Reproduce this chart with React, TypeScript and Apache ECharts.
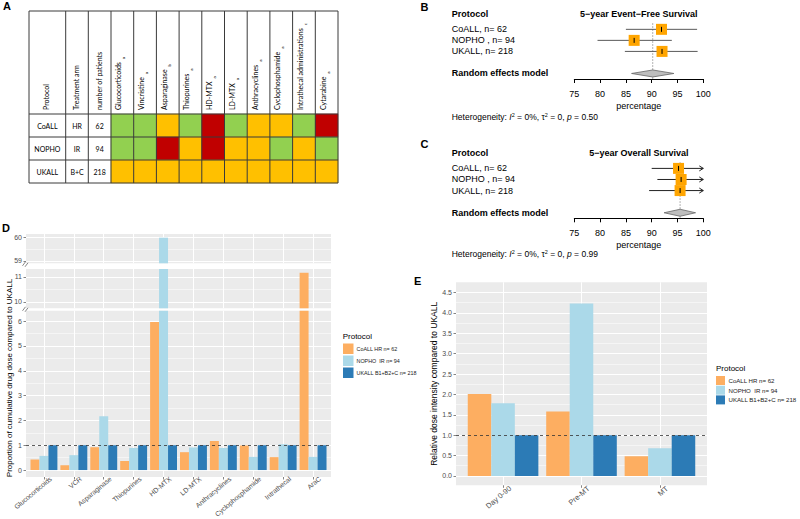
import React, { useEffect, useRef } from 'react';
import * as echarts from 'echarts';

const SANS = '"Liberation Sans", Arial, Helvetica, sans-serif';
const TABLE_FONT = 'Lato, "Liberation Sans", sans-serif';

// ---------------- Panel A: treatment intensity table ----------------
const infoColumns = ['Protocol', 'Treatment arm', 'number of patients'];
const drugColumns = ['Glucocorticoids', 'Vincristine', 'Asparaginase', 'Thiopurines', 'HD-MTX', 'LD-MTX', 'Anthracyclines', 'Cyclophosphamide', 'Intrathecal administrations', 'Cytarabine'];
const drugFootnotes = ['a', 'a', 'b', 'a', 'a', 'a', 'a', 'a', 'c', 'a'];
const tableProtocols = ['CoALL', 'NOPHO', 'UKALL'];
const treatmentArms = ['HR', 'IR', 'B+C'];
const patientCounts = ['62', '94', '218'];
// 0 = lower (green), 1 = comparable (amber), 2 = higher (red)
const coallLevels = [0, 0, 1, 0, 2, 0, 1, 1, 0, 2];
const nophoLevels = [0, 0, 2, 1, 2, 1, 1, 0, 1, 0];
const ukallLevels = [1, 1, 1, 1, 1, 1, 1, 1, 1, 1];
const levelColors = ['#92D050', '#FFC000', '#C00000'];

// ---------------- Panel B: 5-year EFS forest ----------------
const forestStudies = ['CoALL, n= 62', 'NOPHO , n= 94', 'UKALL, n= 218'];
const efsEstimate = [91.9, 86.6, 92.0];
const efsLower = [85.0, 79.5, 84.8];
const efsUpper = [98.8, 93.9, 98.9];
const efsPooled = [90.2, 86.1, 94.3]; // estimate, lower, upper
const efsHet = ['0%', '0', '0.50'];

// ---------------- Panel C: 5-year OS forest ----------------
const osEstimate = [95.2, 95.7, 95.5];
const osLower = [90.0, 91.1, 89.5];
const osUpper = [100.6, 100.6, 100.6];
const osPooled = [95.5, 92.4, 98.5];
const osHet = ['0%', '0', '0.99'];
const forestMin = 75;
const forestMax = 100;
const forestStep = 5;

// ---------------- Panel D: cumulative dose ----------------
const doseCategories = ['Glucocorticoids', 'VCR', 'Asparaginase', 'Thiopurines', 'HD-MTX', 'LD-MTX', 'Anthracyclines', 'Cyclophosphamide', 'Intrathecal', 'AraC'];
const coallDose = [0.43, 0.19, 0.92, 0.36, 5.96, 0.72, 1.17, 0.99, 0.52, 11.16];
const nophoDose = [0.57, 0.6, 2.17, 0.89, 60.0, 0.91, 0.89, 0.53, 1.04, 0.53];
const ukallDose = [1, 1, 1, 1, 1, 1, 1, 1, 1, 1];
const doseTicksTop = [59, 60];
const doseTicksMid = [10, 11];
const doseTicksLow = [0, 1, 2, 3, 4, 5, 6];

// ---------------- Panel E: relative dose intensity ----------------
const phaseCategories = ['Day 0-90', 'Pre-MT', 'MT'];
const coallRel = [2.01, 1.58, 0.48];
const nophoRel = [1.78, 4.23, 0.68];
const ukallRel = [1, 1, 1];
const relTicks = [0, 0.5, 1, 1.5, 2, 2.5, 3, 3.5, 4, 4.5];

const protocolNames = ['CoALL HR n= 62', 'NOPHO  IR n= 94', 'UKALL B1+B2+C n= 218'];
const protocolColors = ['#FDAE61', '#ABD9E9', '#2C7BB6'];

const GG_BG = '#EBEBEB';
const TICK = '#333333';
const LAB = '#4D4D4D';

function minorOf(ticks: number[], step: number, max: number) {
  return ticks.map((v) => v + step / 2).filter((v) => v < max);
}

function buildOption() {
  const ctx = document.createElement('canvas').getContext('2d') as CanvasRenderingContext2D;
  const measure = (t: string, font: string) => {
    ctx.font = font;
    return ctx.measureText(t).width;
  };

  const graphic: any[] = [];
  const txt = (x: number, y: number, text: string, o: any = {}) =>
    graphic.push({
      type: 'text', x, y, z: 100, rotation: o.rotation || 0,
      style: {
        text, fontSize: o.fontSize || 9, fontFamily: o.fontFamily || SANS,
        fontWeight: o.bold ? 'bold' : 'normal', fill: o.fill || '#000',
        align: o.align || 'left', verticalAlign: o.verticalAlign || 'middle', rich: o.rich,
      },
    });
  const ln = (x1: number, y1: number, x2: number, y2: number, stroke = '#3A3A3A', w = 1) =>
    graphic.push({ type: 'line', z: 100, shape: { x1, y1, x2, y2 }, style: { stroke, lineWidth: w } });

  // panel letters
  txt(3, 6, 'A', { fontSize: 11, bold: true });
  txt(420.5, 6.5, 'B', { fontSize: 11, bold: true });
  txt(420.5, 143.7, 'C', { fontSize: 11, bold: true });
  txt(2, 227.5, 'D', { fontSize: 11, bold: true });
  txt(414, 281, 'E', { fontSize: 11, bold: true });

  // ---- table A layout ----
  const tTop = 11, tHead = 114, rowH = 23, tLeft = 29, tRight = 338;
  const infoEdges = [29, 65.7, 88.3, 111];
  const drugW = (tRight - 111) / drugColumns.length;
  const edges = [...infoEdges, ...drugColumns.map((_, i) => 111 + (i + 1) * drugW)];
  const hLines = [tTop, tHead, ...tableProtocols.map((_, i) => tHead + (i + 1) * rowH)];
  hLines.forEach((y) => ln(tLeft, y, tRight, y));
  edges.forEach((x) => ln(x, tTop, x, hLines[hLines.length - 1]));
  const tf = 7;
  infoColumns.forEach((h, i) => {
    const cx = (infoEdges[i] + infoEdges[i + 1]) / 2;
    txt(cx - 1, 110, h, { rotation: Math.PI / 2, fontSize: tf, fontFamily: TABLE_FONT });
  });
  drugColumns.forEach((h, i) => {
    const cx = 111 + (i + 0.5) * drugW;
    txt(cx - 4, 110, h, { rotation: Math.PI / 2, fontSize: tf, fontFamily: TABLE_FONT });
    const w = measure(h, `${tf}px Lato`);
    txt(cx + 1.5, 110 - w - 3, drugFootnotes[i], { rotation: Math.PI / 2, fontSize: 4.5, fontFamily: TABLE_FONT });
  });
  const rowCols = [tableProtocols, treatmentArms, patientCounts];
  tableProtocols.forEach((_, r) => {
    const cy = tHead + (r + 0.5) * rowH;
    rowCols.forEach((col, c) => {
      const cx = (infoEdges[c] + infoEdges[c + 1]) / 2;
      txt(cx, cy, col[r], { align: 'center', fontSize: tf, fontFamily: TABLE_FONT });
    });
  });

  // ---- forest texts ----
  const hetText = (h: string[]) =>
    `{n|Heterogeneity: }{i|I}{s|2}{n| = ${h[0]}, τ}{s|2}{n| = ${h[1]}, }{i|p}{n| = ${h[2]}}`;
  const hetRich = {
    n: { fontSize: 8.5, fontFamily: SANS, lineHeight: 11 },
    i: { fontSize: 8.5, fontFamily: SANS, fontStyle: 'italic', lineHeight: 11 },
    s: { fontSize: 5.5, fontFamily: SANS, verticalAlign: 'top', lineHeight: 11 },
  };
  const forestText = (top: number, unit: number, title: string, het: string[], hetY: number) => {
    txt(451.7, top - 0.5 * unit + 1, 'Protocol', { bold: true });
    txt(638.8, top - 0.5 * unit + 1, title, { bold: true, align: 'center' });
    forestStudies.forEach((s, i) => txt(451.7, top + (i + 1) * unit, s));
    txt(451.7, top + 5 * unit, 'Random effects model', { bold: true });
    txt(451.7, hetY, hetText(het), { rich: hetRich });
  };
  forestText(18.3, 11, '5\u2212year Event\u2212Free Survival', efsHet, 117);
  forestText(157.3, 61 / 5.5, '5\u2212year Overall Survival', osHet, 254);

  // ---- D decorations ----
  txt(9.5, 378, 'Proportion of cumulative drug dose compared to UKALL', { rotation: Math.PI / 2, align: 'center', fontSize: 8 });
  [[263.3], [308.3]].forEach(([y]) => {
    ln(22.5, y + 2.5, 25.5, y - 1.5, '#555', 0.7);
    ln(25, y + 3.5, 28, y - 0.5, '#555', 0.7);
  });
  txt(342.7, 336, 'Protocol', { fontSize: 8 });
  txt(716, 368.5, 'Protocol', { fontSize: 8 });

  // ---- grids ----
  const gg = { show: true, backgroundColor: GG_BG, borderWidth: 0, outerBoundsMode: 'none', containLabel: false };
  const plain = { outerBoundsMode: 'none', containLabel: false };
  const grid: any[] = [
    { ...plain, left: 111, top: tHead, width: tRight - 111, height: rowH * 3 },
    { ...plain, left: 574.3, top: 18.3, width: 129, height: 60.7 },
    { ...plain, left: 574.3, top: 157.3, width: 129, height: 61 },
    { ...gg, left: 26, top: 234, width: 305, height: 29.3 },
    { ...gg, left: 26, top: 269, width: 305, height: 39.3 },
    { ...gg, left: 26, top: 310.7, width: 305, height: 166.3 },
    { ...gg, left: 456, top: 282.3, width: 251, height: 203 },
  ];

  const forestX = (g: number) => ({
    type: 'value', gridIndex: g, min: forestMin, max: forestMax, interval: forestStep,
    axisLine: { show: true, onZero: false, lineStyle: { color: '#000', width: 1 } },
    axisTick: { show: true, length: 4, lineStyle: { color: '#000', width: 1 } },
    axisLabel: { fontSize: 9, color: '#000', margin: 10, fontFamily: SANS },
    splitLine: { show: false },
    name: 'percentage', nameLocation: 'middle', nameGap: 22,
    nameTextStyle: { fontSize: 9, color: '#000', fontFamily: SANS },
  });
  const dosePos = doseCategories.map((_, i) => i + 1);
  const phasePos = phaseCategories.map((_, i) => i + 1);
  const ggX = (g: number, cats: string[], pos: number[], showLab: boolean, fs: number, margin: number) => ({
    type: 'value', gridIndex: g, min: 0.4, max: cats.length + 0.6,
    axisLine: { show: false, onZero: false },
    axisTick: { show: showLab, length: 2.5, lineStyle: { color: TICK, width: 0.6 }, customValues: pos },
    axisLabel: {
      show: showLab, customValues: pos, rotate: 40, fontSize: fs, color: LAB, margin, fontFamily: SANS,
      hideOverlap: false, verticalAlign: 'top', padding: [0, -6, 0, 0],
      formatter: (v: number) => cats[Math.round(v) - 1] || '',
    },
    splitLine: { show: true, lineStyle: { color: '#fff', width: 1 } },
  });
  const ggY = (g: number, min: number, max: number, ticks: number[], fmt: (v: number) => string, extra: any = {}) => ({
    type: 'value', gridIndex: g, min, max,
    axisLine: { show: false, onZero: false },
    axisTick: { show: true, length: 2.5, lineStyle: { color: TICK, width: 0.6 }, customValues: ticks },
    axisLabel: { show: true, customValues: ticks, fontSize: 7, color: LAB, margin: 4, fontFamily: SANS, formatter: fmt },
    splitLine: { show: true, lineStyle: { color: '#fff', width: 1 } },
    ...extra,
  });
  const ggMinor = (g: number, min: number, max: number, ticks: number[]) => ({
    type: 'value', gridIndex: g, min, max, position: 'left',
    axisLine: { show: false, onZero: false },
    axisTick: { show: false, customValues: ticks },
    axisLabel: { show: false },
    splitLine: { show: true, lineStyle: { color: '#fff', width: 0.5 } },
  });

  const xAxis: any[] = [
    { type: 'category', gridIndex: 0, data: drugColumns, show: false },
    forestX(1),
    forestX(2),
    ggX(3, doseCategories, dosePos, false, 6.8, 2),
    ggX(4, doseCategories, dosePos, false, 6.8, 2),
    ggX(5, doseCategories, dosePos, true, 6.8, 2),
    ggX(6, phaseCategories, phasePos, true, 7.5, 3),
  ];
  const dFmt = (v: number) => String(v);
  const eFmt = (v: number) => v.toFixed(1);
  const yAxis: any[] = [
    { type: 'category', gridIndex: 0, data: tableProtocols, inverse: true, show: false },
    { type: 'value', gridIndex: 1, min: 0, max: 5.5, inverse: true, show: false },
    { type: 'value', gridIndex: 2, min: 0, max: 5.5, inverse: true, show: false },
    ggY(3, 58.89, 60.16, doseTicksTop, dFmt),
    ggY(4, 9.74, 11.31, doseTicksMid, dFmt),
    ggY(5, -0.28, 6.42, doseTicksLow, dFmt),
    ggY(6, -0.23, 4.75, relTicks, eFmt, {
      name: 'Relative dose intensity compared to UKALL', nameLocation: 'middle', nameGap: 18,
      nameTextStyle: { fontSize: 8.5, color: '#000', fontFamily: SANS },
    }),
    ggMinor(3, 58.89, 60.16, minorOf(doseTicksTop, 1, 60.16)),
    ggMinor(4, 9.74, 11.31, minorOf(doseTicksMid, 1, 11.31)),
    ggMinor(5, -0.28, 6.42, minorOf(doseTicksLow, 1, 6.42)),
    ggMinor(6, -0.23, 4.75, minorOf(relTicks, 0.5, 4.75)),
  ];

  const levelRows = [coallLevels, nophoLevels, ukallLevels];
  const heatData: number[][] = [];
  levelRows.forEach((row, r) => row.forEach((lv, c) => heatData.push([c, r, lv])));

  const studyRender = (lineColor: string) => (params: any, api: any) => {
    const est = api.value(0), lo = api.value(1), hi = api.value(2), row = api.value(3);
    const l = api.coord([Math.max(lo, forestMin), row]);
    const r = api.coord([Math.min(hi, forestMax), row]);
    const c = api.coord([est, row]);
    const s = 11;
    const children: any[] = [
      { type: 'line', shape: { x1: l[0], y1: l[1], x2: r[0], y2: r[1] }, style: { stroke: lineColor, lineWidth: 1 } },
    ];
    if (hi > forestMax) {
      children.push({
        type: 'polyline',
        shape: { points: [[r[0] - 4, r[1] - 2.5], [r[0], r[1]], [r[0] - 4, r[1] + 2.5]] },
        style: { stroke: lineColor, fill: null, lineWidth: 1 },
      });
    }
    children.push({ type: 'rect', shape: { x: c[0] - s / 2, y: c[1] - s / 2, width: s, height: s }, style: { fill: '#FFA500' } });
    children.push({ type: 'line', shape: { x1: c[0], y1: c[1] - 2.5, x2: c[0], y2: c[1] + 2.5 }, style: { stroke: '#000', lineWidth: 1 } });
    return { type: 'group', children };
  };
  const pooledRender = (params: any, api: any) => {
    const est = api.value(0), lo = api.value(1), hi = api.value(2), row = api.value(3);
    const c = api.coord([est, row]);
    const l = api.coord([lo, row]);
    const r = api.coord([hi, row]);
    const t = api.coord([est, 0.45]);
    const b = api.coord([est, 5.5]);
    return {
      type: 'group',
      children: [
        { type: 'line', shape: { x1: t[0], y1: t[1], x2: b[0], y2: b[1] }, style: { stroke: '#9A9A9A', lineWidth: 1, lineDash: [1.5, 1.5] } },
        { type: 'polygon', shape: { points: [[l[0], c[1]], [c[0], c[1] - 3.5], [r[0], c[1]], [c[0], c[1] + 3.5]] }, style: { fill: '#BEBEBE', stroke: '#666', lineWidth: 0.8 } },
      ],
    };
  };
  const studyData = (est: number[], lo: number[], hi: number[]) => est.map((e, i) => [e, lo[i], hi[i], i + 1]);

  const series: any[] = [
    { type: 'heatmap', xAxisIndex: 0, yAxisIndex: 0, data: heatData, itemStyle: { borderWidth: 0 }, emphasis: { disabled: true } },
    { type: 'custom', xAxisIndex: 1, yAxisIndex: 1, renderItem: pooledRender, data: [[...efsPooled, 5]], silent: true },
    { type: 'custom', xAxisIndex: 1, yAxisIndex: 1, renderItem: studyRender('#5A5A5A'), data: studyData(efsEstimate, efsLower, efsUpper), silent: true },
    { type: 'custom', xAxisIndex: 2, yAxisIndex: 2, renderItem: pooledRender, data: [[...osPooled, 5]], silent: true },
    { type: 'custom', xAxisIndex: 2, yAxisIndex: 2, renderItem: studyRender('#222'), data: studyData(osEstimate, osLower, osUpper), silent: true },
  ];
  const refLine = {
    silent: true, symbol: ['none', 'none'], label: { show: false },
    lineStyle: { color: '#333', type: [3, 3], width: 0.8 }, data: [{ yAxis: 1 }],
  };
  const doseValues = [coallDose, nophoDose, ukallDose];
  [3, 4, 5].forEach((g) => {
    doseValues.forEach((vals, p) => {
      const s: any = {
        type: 'bar', name: protocolNames[p], xAxisIndex: g, yAxisIndex: g,
        data: vals.map((v, i) => [dosePos[i], v]), barGap: '0%', barCategoryGap: '10%',
        itemStyle: { color: protocolColors[p] }, emphasis: { disabled: true },
      };
      if (g === 5 && p === 2) s.markLine = refLine;
      series.push(s);
    });
  });
  [coallRel, nophoRel, ukallRel].forEach((vals, p) => {
    const s: any = {
      type: 'bar', name: protocolNames[p], xAxisIndex: 6, yAxisIndex: 6,
      data: vals.map((v, i) => [phasePos[i], v]), barGap: '0%', barCategoryGap: '10%',
      itemStyle: { color: protocolColors[p] }, emphasis: { disabled: true },
    };
    if (p === 2) s.markLine = refLine;
    series.push(s);
  });

  const legendBase = {
    orient: 'vertical', padding: 0, icon: 'rect', selectedMode: false, data: protocolNames,
  };

  return {
    animation: false,
    backgroundColor: '#fff',
    textStyle: { fontFamily: SANS },
    grid,
    xAxis,
    yAxis,
    visualMap: {
      type: 'piecewise', show: false, seriesIndex: 0, dimension: 2,
      pieces: levelColors.map((color, value) => ({ value, color })),
    },
    legend: [
      {
        ...legendBase, left: 343, top: 343.5, itemWidth: 10.5, itemHeight: 10.5, itemGap: 1.5,
        textStyle: { fontSize: 5.4, color: '#1A1A1A', fontFamily: SANS, padding: [0, 0, 0, -2] },
      },
      {
        ...legendBase, left: 716, top: 376, itemWidth: 9, itemHeight: 9, itemGap: 0.7,
        textStyle: { fontSize: 6.1, color: '#1A1A1A', fontFamily: SANS, padding: [0, 0, 0, -1.5] },
      },
    ],
    graphic,
    series,
  };
}

export default function App() {
  const ref = useRef<HTMLDivElement>(null);
  useEffect(() => {
    if (!ref.current) return;
    const chart = echarts.init(ref.current, null, { renderer: 'svg' });
    chart.setOption(buildOption() as any);
    return () => chart.dispose();
  }, []);
  return (
    <div
      ref={ref}
      style={{ position: 'fixed', left: 0, top: 0, width: 800, height: 519, background: '#fff' }}
    />
  );
}
